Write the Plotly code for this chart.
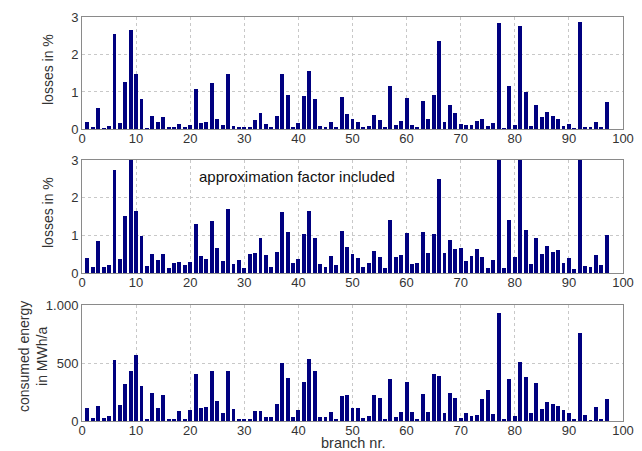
import plotly.graph_objects as go
from plotly.subplots import make_subplots

branches = list(range(1, 98))

losses = [0.18, 0.04, 0.55, 0.02, 0.07, 2.55, 0.17, 1.25, 2.65, 1.47,
          0.80, 0.02, 0.34, 0.19, 0.31, 0.03, 0.06, 0.14, 0.04, 0.12,
          1.07, 0.16, 0.19, 1.24, 0.28, 0.11, 1.48, 0.07, 0.05, 0.03,
          0.03, 0.23, 0.42, 0.13, 0.05, 0.36, 1.46, 0.90, 0.06, 0.17,
          0.88, 1.56, 0.80, 0.07, 0.04, 0.18, 0.06, 0.85, 0.40, 0.28,
          0.18, 0.04, 0.08, 0.38, 0.23, 0.03, 1.15, 0.10, 0.21, 0.84,
          0.12, 0.05, 0.74, 0.26, 0.91, 2.37, 0.19, 0.63, 0.44, 0.13,
          0.12, 0.11, 0.21, 0.27, 0.07, 0.16, 2.85, 0.02, 1.15, 0.12,
          2.76, 0.98, 0.09, 0.63, 0.31, 0.46, 0.36, 0.28, 0.09, 0.13,
          0.02, 2.87, 0.05, 0.03, 0.19, 0.04, 0.71]

losses_approx = [0.41, 0.18, 0.86, 0.18, 0.22, 2.73, 0.38, 1.51, 3.20, 1.64,
                 1.00, 0.19, 0.52, 0.36, 0.52, 0.13, 0.27, 0.30, 0.22, 0.29,
                 1.30, 0.45, 0.37, 1.38, 0.66, 0.32, 1.69, 0.24, 0.34, 0.15,
                 0.52, 0.53, 0.94, 0.48, 0.18, 0.57, 1.62, 1.09, 0.26, 0.39,
                 1.03, 1.66, 0.93, 0.24, 0.17, 0.46, 0.21, 1.13, 0.69, 0.50,
                 0.41, 0.18, 0.26, 0.58, 0.44, 0.14, 1.40, 0.42, 0.49, 1.06,
                 0.24, 0.26, 1.09, 0.53, 1.04, 2.49, 0.53, 0.89, 0.64, 0.68,
                 0.33, 0.45, 0.65, 0.44, 0.15, 0.36, 3.20, 0.14, 1.40, 0.43,
                 3.20, 1.15, 0.25, 0.94, 0.51, 0.73, 0.56, 0.61, 0.26, 0.41,
                 0.11, 3.20, 0.19, 0.16, 0.48, 0.22, 1.01]

energy = [115, 29, 129, 23, 40, 529, 141, 322, 431, 566,
          299, 11, 238, 115, 221, 17, 17, 86, 14, 98,
          402, 109, 118, 428, 170, 66, 428, 103, 17, 14,
          9, 86, 83, 32, 32, 147, 500, 374, 34, 98,
          333, 532, 434, 37, 34, 75, 20, 213, 224, 112,
          115, 29, 46, 224, 198, 9, 359, 37, 75, 333,
          78, 14, 230, 80, 408, 391, 72, 241, 198, 23,
          72, 46, 55, 190, 264, 63, 928, 9, 362, 40,
          506, 376, 72, 325, 103, 167, 147, 132, 92, 66,
          14, 761, 52, 2, 121, 20, 187]

x_ticks = [0, 10, 20, 30, 40, 50, 60, 70, 80, 90, 100]
loss_ticks = [0, 1, 2, 3]
energy_ticks = [0, 500, 1000]
energy_ticklabels = ["0", "500", "1.000"]

BAR = "#00007F"
FONT = "Liberation Sans, Arial, sans-serif"
TXT = "#333333"

# page body has an 8px margin: figure drawn 8px in from the top-left
OFF = 8
W, Hf = 642 - OFF, 451 - OFF
L, R, T, B = 82, 623, 17, 421          # plot area in screenshot pixels
PH = B - T

fig = make_subplots(rows=3, cols=1)
for r, vals in enumerate([losses, losses_approx, energy], start=1):
    fig.add_trace(go.Bar(x=branches, y=vals, marker=dict(color=BAR, line=dict(width=0)),
                         width=0.72, showlegend=False), row=r, col=1)

def py(pix):
    return 1 - (pix - T) / PH
def px(pix):
    return (pix - L) / (R - L)

domains = [[py(129.3), py(17.3)], [py(273.3), py(160)], [py(421), py(305)]]
axstyle = dict(showline=True, mirror=True, linecolor="#8a8a8a", linewidth=1,
               showgrid=True, gridcolor="#c8c8c8", griddash="dot", gridwidth=1,
               zeroline=False, ticks="", automargin=False,
               tickfont=dict(size=13, color=TXT, family=FONT))
for r in range(1, 4):
    fig.update_xaxes(range=[0, 100], tickvals=x_ticks, domain=[0, 1], ticklabelstandoff=-3,
                     row=r, col=1, **axstyle)
    fig.update_yaxes(domain=[max(0, domains[r - 1][0]), min(1, domains[r - 1][1])],
                     row=r, col=1, **axstyle)
fig.update_yaxes(range=[0, 3], tickvals=loss_ticks, row=1, col=1)
fig.update_yaxes(range=[0, 3], tickvals=loss_ticks, row=2, col=1)
fig.update_yaxes(range=[0, 1000], tickvals=energy_ticks, ticktext=energy_ticklabels, row=3, col=1)

ann = [
    dict(text="losses in %", x=px(48), y=py(70), textangle=-90, size=14),
    dict(text="losses in %", x=px(48), y=py(213), textangle=-90, size=14),
    dict(text="consumed energy<br>in MWh/a", x=px(33), y=py(357), textangle=-90, size=14),
    dict(text="branch nr.", x=px(353), y=py(442.5), textangle=0, size=14.5),
]
for a in ann:
    size = a.pop("size")
    fig.add_annotation(xref="paper", yref="paper", showarrow=False,
                       xanchor="center", yanchor="middle",
                       font=dict(size=size, color=TXT, family=FONT), **a)

fig.add_annotation(xref="x2", yref="y2", x=21.3, y=2.57, text="approximation factor included",
                   showarrow=False, xanchor="left", yanchor="middle",
                   font=dict(size=15, color="#111111", family=FONT))

fig.update_layout(width=W, height=Hf,
                  margin=dict(l=L - OFF, r=642 - R, t=T - OFF, b=451 - B, autoexpand=False),
                  plot_bgcolor="white", paper_bgcolor="white", bargap=0,
                  font=dict(family=FONT, color=TXT))

fig.write_html("out.html")
